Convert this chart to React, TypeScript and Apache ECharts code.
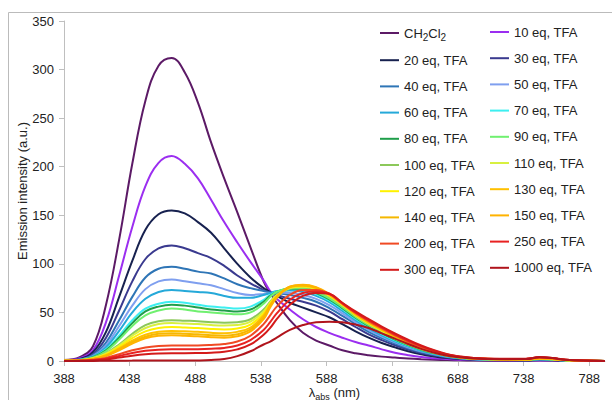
import React, { useEffect, useRef } from "react";
import * as echarts from "echarts";

const wavelengths = [388, 400, 410, 420, 430, 440, 450, 460, 470, 480, 490, 500, 510, 520, 530, 540, 545, 550, 560, 570, 580, 590, 600, 610, 620, 630, 640, 650, 660, 670, 680, 690, 700, 720, 740, 750, 760, 770, 800];

const xTickValues = [388, 438, 488, 538, 588, 638, 688, 738, 788];

const seriesNames = ["CH2Cl2", "10 eq, TFA", "20 eq, TFA", "30 eq, TFA", "40 eq, TFA", "50 eq, TFA", "60 eq, TFA", "70 eq, TFA", "80 eq, TFA", "90 eq, TFA", "100 eq, TFA", "110 eq, TFA", "120 eq, TFA", "130 eq, TFA", "140 eq, TFA", "150 eq, TFA", "200 eq, TFA", "250 eq, TFA", "300 eq, TFA", "1000 eq, TFA"];

const seriesColors = ["#5C1A66", "#9B2EF0", "#17214F", "#3A3A8F", "#2E75B6", "#7F9FEF", "#25A9D9", "#3DEFF0", "#1F9E4A", "#70F070", "#8CC85A", "#D8F040", "#FFF200", "#FFC000", "#F5B800", "#FFB300", "#F04A24", "#E82222", "#D41A1A", "#B0141C"];

const sCH2Cl2 = [1, 4, 15, 58, 125, 203, 268, 304, 312, 297, 266, 225, 188, 153, 117, 82, 70, 60, 42, 29, 21, 16, 11, 8, 6, 4.5, 3.5, 2.5, 1.8, 1.3, 1, 0.7, 0.5, 0.3, 0.3, 0.5, 0.4, 0.2, 0];
const s10 = [1, 3, 11, 40, 88, 138, 180, 204, 211, 203, 188, 166, 143, 122, 102, 83, 72, 64, 53, 43, 35, 29, 24, 19.5, 16, 12, 8.5, 6, 4, 2.8, 2, 1.4, 1, 0.6, 0.4, 0.6, 0.5, 0.2, 0];
const s20 = [0.5, 2, 9, 30, 66, 103, 135, 151, 155, 152, 143, 132, 116, 100, 86, 75, 71, 67, 60, 55, 50, 45, 38, 30.5, 24, 18.5, 14, 10, 7, 4.7, 3, 2, 1.3, 0.8, 0.6, 1, 0.8, 0.4, 0];
const s30 = [0.5, 1.5, 7, 24, 52, 82, 105, 116, 119, 116, 111, 106, 98, 88, 80, 73, 70.5, 68, 64, 61, 57, 51, 43, 35, 27.5, 21.5, 16.2, 11.8, 8.3, 5.6, 3.6, 2.3, 1.5, 1, 0.8, 1.3, 1, 0.5, 0];
const s40 = [0.5, 1.5, 6, 19, 42, 66, 86, 95, 97, 95, 92, 90, 85, 79, 75, 72, 70.5, 70, 68, 65, 61, 54.5, 46.5, 38, 30, 23.5, 18, 13.2, 9.3, 6.3, 4.1, 2.6, 1.7, 1.1, 0.9, 1.5, 1.2, 0.6, 0];
const s50 = [0.5, 1.3, 5, 16, 36, 57, 74, 82, 84, 82, 80, 78, 74, 70, 68, 69, 70, 70.5, 70, 68, 64, 57.5, 49, 40, 32, 25, 19.2, 14.2, 10, 6.8, 4.4, 2.8, 1.9, 1.2, 1, 1.7, 1.3, 0.6, 0];
const s60 = [0.5, 1.2, 4.5, 14, 31, 50, 64, 71, 73, 72, 71, 70, 67, 65, 65, 68, 70, 72, 72.5, 71, 67, 60.5, 51.5, 42, 33.5, 26.5, 20.3, 15, 10.6, 7.3, 4.7, 3, 2, 1.3, 1.1, 1.8, 1.4, 0.7, 0];
const s70 = [0.5, 1, 4, 12, 26, 42, 54, 59, 61, 60, 58, 56, 55, 54, 56, 63, 68, 71.5, 74, 73, 69, 62.5, 53.5, 43.5, 35, 27.8, 21.3, 15.8, 11.2, 7.7, 4.9, 3.2, 2.1, 1.4, 1.2, 2, 1.5, 0.7, 0];
const s80 = [0.5, 1, 3.8, 11, 24, 39, 51, 56, 58, 57, 55, 53, 52, 51, 53, 61, 67, 71, 74.5, 74, 70, 63.5, 54.5, 44.5, 36, 28.7, 22, 16.3, 11.6, 8, 5.1, 3.3, 2.2, 1.4, 1.2, 2, 1.5, 0.7, 0];
const s90 = [0.5, 1, 3.5, 10, 22, 36, 47, 52, 54, 53, 51, 50, 49, 48, 50, 59, 66, 71, 75, 75, 71, 64.5, 55.5, 45.5, 37, 29.5, 22.7, 16.8, 12, 8.3, 5.3, 3.4, 2.3, 1.5, 1.3, 2.2, 1.6, 0.8, 0];
const s100 = [0.4, 0.8, 3, 8, 17, 28, 37, 41, 42, 41.5, 41, 40, 39.5, 40, 43, 53, 61, 68, 74.5, 76, 73, 66.5, 57, 46.5, 38, 30.5, 23.5, 17.4, 12.4, 8.6, 5.5, 3.5, 2.4, 1.5, 1.4, 2.4, 1.8, 0.8, 0];
const s110 = [0.4, 0.8, 2.8, 7.5, 16, 26, 34, 38, 39, 38.5, 38, 37, 36.5, 37, 40.5, 51, 60, 67.5, 75, 76.5, 74, 67, 57.5, 47, 38.5, 31, 24, 17.8, 12.7, 8.8, 5.6, 3.6, 2.4, 1.6, 1.4, 2.5, 1.9, 0.9, 0];
const s120 = [0.3, 0.7, 2.5, 6.8, 14.5, 23.5, 30.5, 34, 35, 34.5, 34, 33, 32.5, 33.5, 37.5, 49, 59, 67, 75.5, 77, 74.5, 67.5, 58, 47.5, 39, 31.5, 24.5, 18.2, 13, 9, 5.8, 3.7, 2.5, 1.6, 1.5, 2.6, 2, 0.9, 0];
const s130 = [0.3, 0.6, 2.2, 6, 13, 21, 27, 30, 31, 30.5, 30, 29, 28.5, 30, 34.5, 47, 58, 66.5, 76, 77.5, 75, 68, 58.5, 48, 39.5, 32, 25, 18.6, 13.4, 9.2, 5.9, 3.8, 2.6, 1.7, 1.5, 2.7, 2, 1, 0];
const s140 = [0.3, 0.6, 2, 5.5, 12, 19.5, 25, 28, 28.5, 28, 27.5, 26.5, 26, 27.5, 32.5, 45, 57, 66, 76.5, 78, 75.5, 68.5, 59, 48.5, 40, 32.5, 25.5, 19, 13.7, 9.4, 6, 3.9, 2.7, 1.7, 1.5, 2.8, 2.1, 1, 0];
const s150 = [0.3, 0.5, 1.9, 5.1, 11, 18, 23.5, 26, 26.5, 26, 25.5, 24.5, 24, 25.5, 30.5, 43, 55, 65, 76.5, 78.5, 76, 69, 59.5, 49, 40.5, 33, 26, 19.5, 14, 9.6, 6.2, 4, 2.8, 1.8, 1.6, 2.9, 2.2, 1, 0];
const s200 = [0.2, 0.3, 1.2, 3.2, 7, 11, 14, 15.5, 16, 16, 16, 16.5, 17.5, 20, 26, 38, 47, 56, 68, 73, 73, 69, 59, 49.5, 41, 33.5, 26.5, 20, 14.6, 10, 6.4, 4.2, 2.9, 2, 2, 3.5, 2.8, 1.2, 0];
const s250 = [0.1, 0.2, 0.9, 2.4, 5.2, 8.3, 10.5, 11.7, 12, 12, 12.2, 12.7, 13.5, 16, 21.5, 32, 40, 49, 63, 70, 71.5, 69.5, 59.5, 50, 42, 34.5, 27.5, 21, 15.3, 10.5, 6.7, 4.4, 3, 2.1, 2.2, 3.8, 3, 1.3, 0];
const s300 = [0.1, 0.15, 0.6, 1.6, 3.5, 5.5, 7, 7.8, 8, 8, 8.2, 8.6, 9.5, 12, 17, 27, 34, 43, 58, 67, 70, 69, 60, 51, 43, 35.5, 28.5, 22, 16, 11, 7, 4.6, 3.2, 2.2, 2.3, 4, 3.1, 1.3, 0];
const s1000 = [0, 0, 0.1, 0.2, 0.3, 0.4, 0.5, 0.5, 0.5, 0.5, 0.6, 1, 2, 5, 10, 17, 20, 24, 32, 37, 40, 40.5, 40, 37.5, 34, 28.5, 23, 17.5, 12.5, 8.5, 5.5, 3.7, 2.5, 1.8, 2, 3.8, 3, 1.2, 0];

const seriesValues = [sCH2Cl2, s10, s20, s30, s40, s50, s60, s70, s80, s90, s100, s110, s120, s130, s140, s150, s200, s250, s300, s1000];

const FONT = "'Liberation Sans', Arial, sans-serif";
const TEXT_COLOR = "#222222";
const AXIS_COLOR = "#BFBFBF";
const FRAME_COLOR = "#BBBBBB";

function legendFormatter(name: string) {
  if (name === "CH2Cl2") return "{n|CH}{s|2}{n|Cl}{s|2}";
  return "{n|" + name + "}";
}

const legendText = {
  color: TEXT_COLOR,
  fontSize: 13,
  fontFamily: FONT,
  lineHeight: 16,
  rich: {
    n: { fontSize: 13, fontFamily: FONT, color: TEXT_COLOR, lineHeight: 16 },
    s: { fontSize: 10, fontFamily: FONT, color: TEXT_COLOR, lineHeight: 18, verticalAlign: "bottom" },
  },
};

export default function App() {
  const ref = useRef<HTMLDivElement>(null);
  useEffect(() => {
    document.body.style.margin = "0";
    const chart = echarts.init(ref.current as HTMLDivElement, null, { renderer: "svg" });
    const series = seriesNames.map((name, i) => ({
      name,
      type: "line",
      data: wavelengths.map((w, j) => [w, seriesValues[i][j]]),
      smooth: 0.4,
      showSymbol: false,
      symbol: "none",
      color: seriesColors[i],
      lineStyle: { width: 2, color: seriesColors[i] },
      emphasis: { disabled: true },
    }));
    const leftNames = seriesNames.filter((_, i) => i % 2 === 0);
    const rightNames = seriesNames.filter((_, i) => i % 2 === 1);
    const legendBase = {
      orient: "vertical",
      top: 24,
      padding: 0,
      itemWidth: 19,
      itemHeight: 2,
      itemGap: 10.2,
      icon: "rect",
      formatter: legendFormatter,
      textStyle: legendText,
      selectedMode: false,
    };
    chart.setOption({
      animation: false,
      backgroundColor: "#ffffff",
      textStyle: { fontFamily: FONT },
      graphic: {
        elements: [
          {
            type: "polyline",
            silent: true,
            z: 100,
            shape: { points: [[8.5, 400], [8.5, 12.5], [612, 12.5]] },
            style: { stroke: FRAME_COLOR, fill: null, lineWidth: 1 },
          },
        ],
      },
      grid: { left: 64, right: 8, top: 21, bottom: 40, containLabel: false, outerBoundsMode: "none" },
      legend: [
        { ...legendBase, left: 380, data: leftNames },
        { ...legendBase, left: 490, data: rightNames },
      ],
      xAxis: {
        type: "value",
        min: 388,
        max: 800,
        splitLine: { show: false },
        axisLine: { show: true, lineStyle: { color: AXIS_COLOR, width: 1 } },
        axisTick: { show: true, customValues: xTickValues, length: 5, lineStyle: { color: AXIS_COLOR } },
        axisLabel: { customValues: xTickValues, margin: 11, fontSize: 13, color: TEXT_COLOR, fontFamily: FONT },
        name: "{l|λ}{s|abs}{l| (nm)}",
        nameLocation: "middle",
        nameGap: 23,
        nameMoveOverlap: false,
        nameTextStyle: {
          color: TEXT_COLOR,
          fontSize: 13,
          fontFamily: FONT,
          rich: {
            l: { fontSize: 13, fontFamily: FONT, color: TEXT_COLOR, lineHeight: 15 },
            s: { fontSize: 9, fontFamily: FONT, color: TEXT_COLOR, lineHeight: 17, verticalAlign: "bottom" },
          },
        },
      },
      yAxis: {
        type: "value",
        min: 0,
        max: 350,
        interval: 50,
        splitLine: { show: false },
        axisLine: { show: true, lineStyle: { color: AXIS_COLOR, width: 1 } },
        axisTick: { show: true, length: 5, lineStyle: { color: AXIS_COLOR } },
        axisLabel: { margin: 10, fontSize: 13, color: TEXT_COLOR, fontFamily: FONT },
        name: "Emission intensity (a.u.)",
        nameLocation: "middle",
        nameGap: 35,
        nameMoveOverlap: false,
        nameTextStyle: { color: TEXT_COLOR, fontSize: 13, fontFamily: FONT },
      },
      series,
    });
    return () => chart.dispose();
  }, []);
  return <div ref={ref} style={{ width: 613, height: 401 }} />;
}
